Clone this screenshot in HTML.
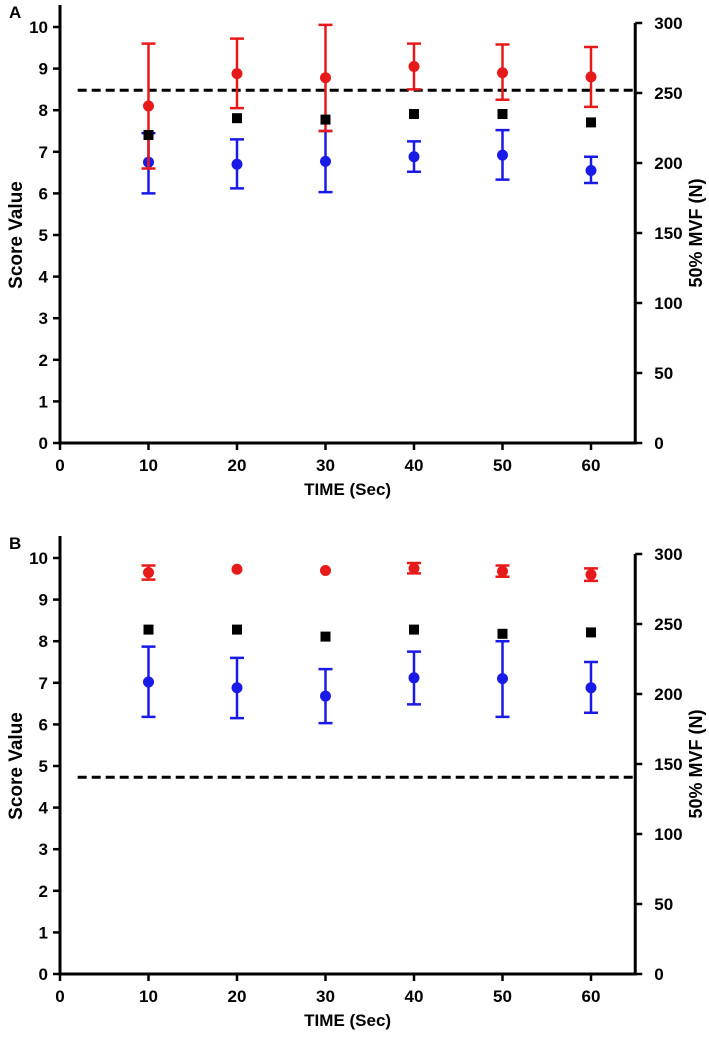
<!DOCTYPE html>
<html><head><meta charset="utf-8"><style>
body{margin:0;background:#fff;width:709px;height:1032px;overflow:hidden}
text{font-family:"Liberation Sans",Arial,sans-serif;font-weight:bold;fill:#000}
</style></head><body>
<svg id="chart" width="709" height="1032" xmlns="http://www.w3.org/2000/svg"></svg>
<script>
const times=[10,20,30,40,50,60];
const xTicks=[0,10,20,30,40,50,60];
const yTicks=[0,1,2,3,4,5,6,7,8,9,10];
const rTicks=[0,50,100,150,200,250,300];
const redA=[8.1,8.88,8.78,9.05,8.9,8.8];
const redALo=[6.6,8.05,7.5,8.5,8.25,8.08];
const redAHi=[9.6,9.72,10.05,9.6,9.58,9.52];
const blueA=[6.75,6.7,6.77,6.88,6.92,6.55];
const blueALo=[6.0,6.12,6.03,6.52,6.33,6.25];
const blueAHi=[7.45,7.3,7.5,7.25,7.52,6.88];
const mvfA=[220,232,231,235,235,229];
const dashA=8.48;
const redB=[9.65,9.73,9.7,9.75,9.68,9.6];
const redBLo=[9.48,9.73,9.7,9.63,9.55,9.45];
const redBHi=[9.82,9.73,9.7,9.88,9.82,9.75];
const blueB=[7.02,6.88,6.68,7.12,7.1,6.88];
const blueBLo=[6.18,6.15,6.03,6.48,6.18,6.28];
const blueBHi=[7.87,7.6,7.33,7.75,8.0,7.5];
const mvfB=[246,246,241,246,243,244];
const dashB=4.73;

const svg=document.getElementById('chart');
const NS='http://www.w3.org/2000/svg';
function mk(tag,attrs,parent){const e=document.createElementNS(NS,tag);for(const k in attrs)e.setAttribute(k,attrs[k]);(parent||svg).appendChild(e);return e;}
function txt(s,x,y,anchor,size,parent){const t=mk('text',{x:x,y:y,'text-anchor':anchor,'font-size':size},parent);t.textContent=s;return t;}

function panel(off,label,red,redLo,redHi,blue,blueLo,blueHi,mvf,dash){
  const g=mk('g',{});
  
  
  const X=v=>60+v*8.85;
  const Y=v=>off+443-v*41.6;
  const YR=v=>off+443-v*1.4;
  const L0=X(0),R0=X(65);
  const pl=txt(label,9,off+18,'start',17,g);
  
  
  const ax=mk('path',{d:`M${L0} ${off+5}V${Y(0)}H${R0}V${YR(300)}`,stroke:'#000','stroke-width':3,fill:'none'},g);
  
  
  yTicks.forEach(v=>{mk('line',{x1:L0-7,x2:L0,y1:Y(v),y2:Y(v),stroke:'#000','stroke-width':2.5},g);
    const t=txt(String(v),L0-12,Y(v)+6,'end',17,g);
    
    });
  rTicks.forEach(v=>{mk('line',{x1:R0,x2:R0+7,y1:YR(v),y2:YR(v),stroke:'#000','stroke-width':2.5},g);
    const t=txt(String(v),R0+19,YR(v)+6,'start',17,g);
    
    });
  xTicks.forEach(v=>{mk('line',{x1:X(v),x2:X(v),y1:Y(0),y2:Y(0)+7,stroke:'#000','stroke-width':2.5},g);
    const t=txt(String(v),X(v),Y(0)+28,'middle',17,g);
    
    });
  const xt=txt('TIME (Sec)',X(32.5),Y(0)+52,'middle',17,g);
  
  
  const yt=txt('Score Value',0,0,'middle',19,g);
  yt.setAttribute('transform',`translate(22,${Y(5)}) rotate(-90)`);
  
  
  const rt=txt('50% MVF (N)',0,0,'middle',18,g);
  rt.setAttribute('transform',`translate(702,${YR(150)}) rotate(-90)`);
  
  
  const dl=mk('line',{x1:X(2),x2:X(65),y1:Y(dash),y2:Y(dash),stroke:'#000','stroke-width':3,'stroke-dasharray':'9,5'},g);
  
  
  function series(vals,lo,hi,col,name){
    times.forEach((t,i)=>{
      const x=X(t);
      if(hi[i]-lo[i]>0.05){
        const eb=mk('path',{d:`M${x} ${Y(lo[i])}V${Y(hi[i])}M${x-7} ${Y(lo[i])}H${x+7}M${x-7} ${Y(hi[i])}H${x+7}`,stroke:col,'stroke-width':2.5,fill:'none'},g);
        
        
      }
      const c=mk('circle',{cx:x,cy:Y(vals[i]),r:5.5,fill:col},g);
      
      
    });
  }
  series(blue,blueLo,blueHi,'#1a1ae6','blue');
  series(red,redLo,redHi,'#e61a1a','red');
  times.forEach((t,i)=>{
    const s=mk('rect',{x:X(t)-5,y:YR(mvf[i])-5,width:10,height:10,fill:'#000'},g);
    
    
  });
}
panel(0,'A',redA,redALo,redAHi,blueA,blueALo,blueAHi,mvfA,dashA);
panel(531,'B',redB,redBLo,redBHi,blueB,blueBLo,blueBHi,mvfB,dashB);
</script>
</body></html>
